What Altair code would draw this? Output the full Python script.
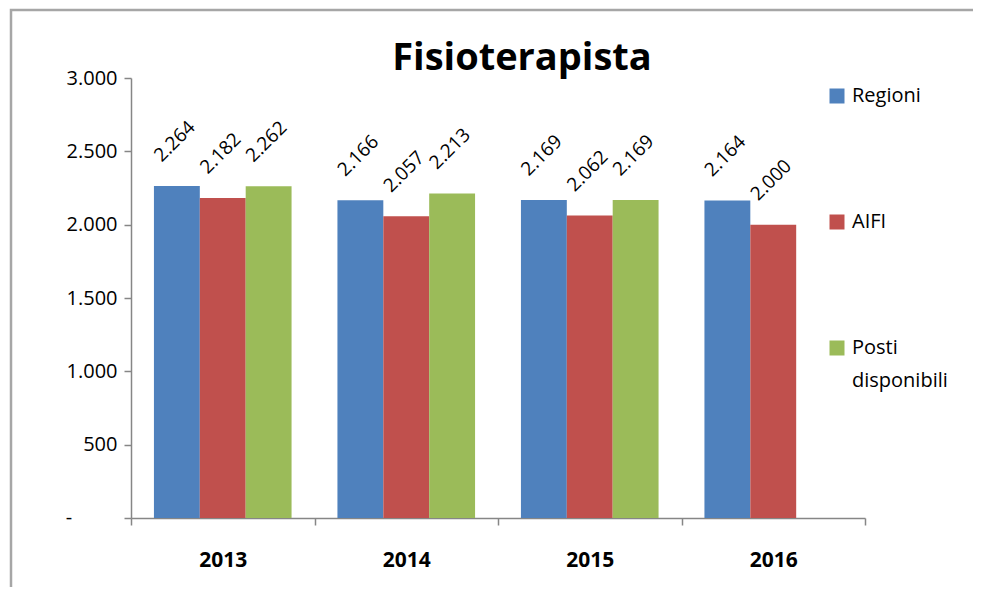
import altair as alt
import pandas as pd

years = ["2013", "2014", "2015", "2016"]
series = ["Regioni", "AIFI", "Posti disponibili"]
regioni = [2264, 2166, 2169, 2164]
aifi = [2182, 2057, 2062, 2000]
posti = [2262, 2213, 2169, None]
colors = ["#4F81BD", "#C0504D", "#9BBB59"]
y_ticks = [0, 500, 1000, 1500, 2000, 2500, 3000]

rows = []
for name, vals in zip(series, [regioni, aifi, posti]):
    for y, v in zip(years, vals):
        if v is not None:
            rows.append({"anno": y, "serie": name, "valore": v})
df = pd.DataFrame(rows)
legend_df = pd.DataFrame({"serie": series})
zero_df = pd.DataFrame({"v": [0], "t": ["-"]})

FONT = "Open Sans"
AXC = "#868686"

yscale = alt.Scale(domain=[0, 3000], nice=False)

x = alt.X("anno:N", title=None, sort=years,
          scale=alt.Scale(paddingInner=0, paddingOuter=0),
          axis=alt.Axis(labelFontWeight="bold", labelFontSize=21, labelColor="#000000",
                        labelFont=FONT, labelPadding=24, labelAngle=0,
                        tickBand="extent", tickSize=7, tickColor=AXC,
                        domainColor=AXC, tickWidth=1.5, domainWidth=1.5))
xo = alt.XOffset("serie:N", sort=series,
                 scale=alt.Scale(domain=series, paddingInner=0, paddingOuter=0.5))
y = alt.Y("valore:Q", title=None, scale=yscale,
          axis=alt.Axis(values=y_ticks, grid=False,
                        labelExpr="datum.value == 0 ? '' : replace(format(datum.value, ','), ',', '.')",
                        labelFontSize=20, labelFont=FONT, labelColor="#000000",
                        labelPadding=7, tickSize=7, tickColor=AXC,
                        domainColor=AXC, tickWidth=1.5, domainWidth=1.5))
color = alt.Color("serie:N", sort=series,
                  scale=alt.Scale(domain=series, range=colors), legend=None)

base = alt.Chart(df).encode(x=x, xOffset=xo)

bars = base.mark_bar().encode(y=y, color=color)

labels = base.mark_text(angle=315, align="center", baseline="middle", dx=30, dy=-33,
                        fontSize=19, font=FONT, color="#000000").encode(
    y=alt.Y("valore:Q", title=None, scale=yscale),
    text="lab:N"
).transform_calculate(lab="replace(format(datum.valore, ','), ',', '.')")

zero = alt.Chart(zero_df).mark_text(align="center", baseline="middle", fontSize=20,
                                    font=FONT, color="#000000").encode(
    x=alt.value(-62),
    y=alt.Y("v:Q", title=None, scale=yscale),
    text="t:N")

plot = alt.layer(bars, labels, zero)

ly = alt.Y("serie:N", sort=series, axis=None,
           scale=alt.Scale(type="point", domain=series, range=[18, 270], padding=0))
leg_sq = alt.Chart(legend_df).mark_square(size=225, opacity=1).encode(
    x=alt.value(706), y=ly, color=alt.Color("serie:N", sort=series, legend=None))
leg_tx = alt.Chart(legend_df).mark_text(align="left", baseline="top", dy=-10, lineHeight=33,
                                        fontSize=20, font=FONT, color="#000000").encode(
    x=alt.value(721), y=ly, text="lab:N"
).transform_calculate(
    lab="datum.serie == 'Posti disponibili' ? ['Posti', 'disponibili'] : datum.serie")

border = alt.Chart(zero_df).mark_rect(fillOpacity=0, stroke="#A6A6A6", strokeWidth=2.5).encode(
    x=alt.value(-120), x2=alt.value(900), y=alt.value(-68), y2=alt.value(600))

chart = alt.layer(border, plot, leg_sq, leg_tx).resolve_scale(y="independent").properties(
    width=734, height=440,
    title=alt.Title("Fisioterapista", fontSize=38, fontWeight="bold", font=FONT,
                    anchor="middle", frame="group", dx=24, offset=-69, color="#000000"),
    autosize=alt.AutoSizeParams(type="none"),
    padding={"left": 123, "top": 70, "right": 108, "bottom": 69},
).configure_view(stroke=None)

chart.save("out.html", embed_options={"renderer": "svg", "actions": False})
